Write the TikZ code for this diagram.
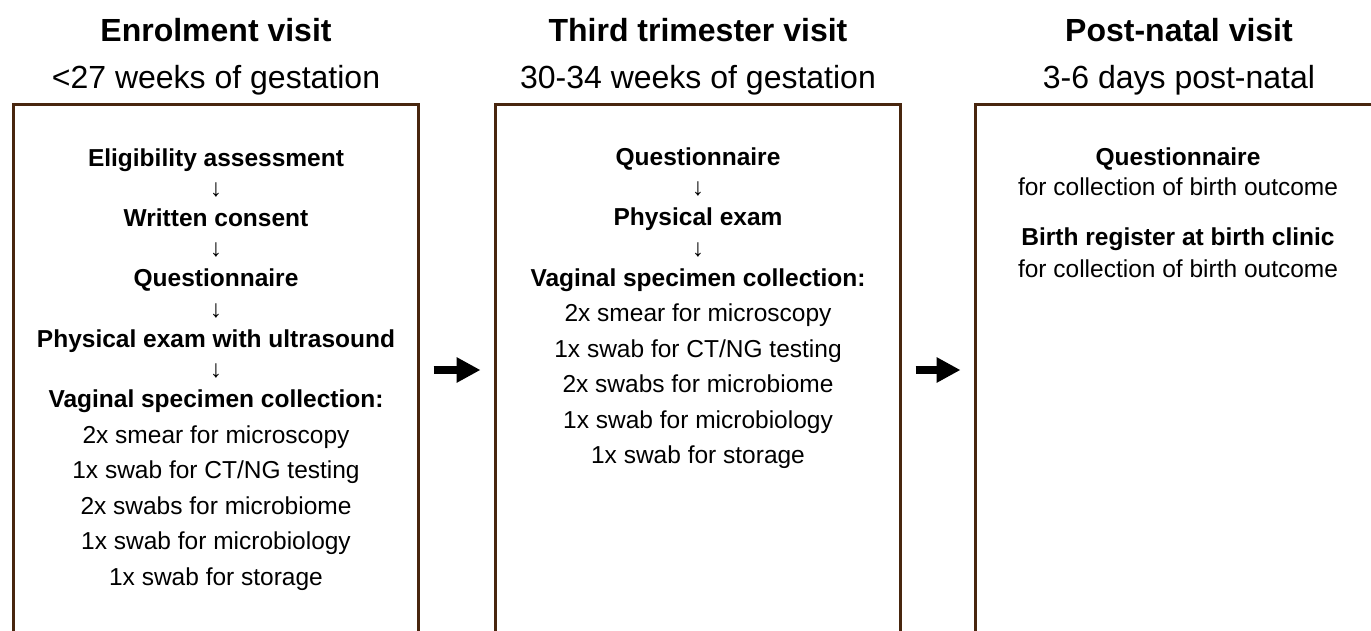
\documentclass[tikz,border=0pt]{standalone}
\usepackage{fontspec}
\setmainfont{Liberation Sans}
\usetikzlibrary{arrows.meta}
\definecolor{boxbrown}{RGB}{72,38,14}
\begin{document}
\begin{tikzpicture}[x=1pt,y=-1pt,
  title/.style={anchor=base,inner sep=0pt,font=\fontsize{32}{38}\selectfont\bfseries},
  subtitle/.style={anchor=base,inner sep=0pt,font=\fontsize{32}{38}\selectfont},
  strong/.style={anchor=base,inner sep=0pt,font=\fontsize{24.5}{29}\selectfont\bfseries},
  plain/.style={anchor=base,inner sep=0pt,font=\fontsize{24.5}{29}\selectfont},
  flow/.style={anchor=base,inner sep=0pt,font=\fontsize{24.5}{29}\selectfont},
  visitbox/.style={draw=boxbrown,line width=3pt,minimum width=405pt,minimum height=530pt,inner sep=0pt},
  bigarrow/.style={line width=8pt,-{Triangle[length=24pt,width=24pt]}}]
\useasboundingbox (0,0) rectangle (1371,631);
\clip (0,0) rectangle (1371,631);

% boxes
\node[visitbox] (b1) at (215.5,370) {};
\node[visitbox] (b2) at (697.5,370) {};
\node[visitbox] (b3) at (1177.5,370) {};

% headings
\node[title] (t1) at (216,42) {Enrolment visit};
\node[subtitle] (s1) at (216,89) {<27 weeks of gestation};
\node[title] (t2) at (698,42) {Third trimester visit};
\node[subtitle] (s2) at (698,89) {30-34 weeks of gestation};
\node[title] (t3) at (1179,42) {Post-natal visit};
\node[subtitle] (s3) at (1179,89) {3-6 days post-natal};

% box 1
\node[strong] (a1) at (216,167) {Eligibility assessment};
\node[flow] (a2) at (216,197) {↓};
\node[strong] (a3) at (216,227) {Written consent};
\node[flow] (a4) at (216,257) {↓};
\node[strong] (a5) at (216,287) {Questionnaire};
\node[flow] (a6) at (216,317) {↓};
\node[strong] (a7) at (216,347) {Physical exam with ultrasound};
\node[flow] (a8) at (216,377) {↓};
\node[strong] (a9) at (216,407) {Vaginal specimen collection:};
\node[plain] (a10) at (216,443) {2x smear for microscopy};
\node[plain] (a11) at (216,478) {1x swab for CT/NG testing};
\node[plain] (a12) at (216,514) {2x swabs for microbiome};
\node[plain] (a13) at (216,549) {1x swab for microbiology};
\node[plain] (a14) at (216,585) {1x swab for storage};

% box 2
\node[strong] (c1) at (698,166) {Questionnaire};
\node[flow] (c2) at (698,196) {↓};
\node[strong] (c3) at (698,226) {Physical exam};
\node[flow] (c4) at (698,256) {↓};
\node[strong] (c5) at (698,286) {Vaginal specimen collection:};
\node[plain] (c6) at (698,321) {2x smear for microscopy};
\node[plain] (c7) at (698,357) {1x swab for CT/NG testing};
\node[plain] (c8) at (698,392) {2x swabs for microbiome};
\node[plain] (c9) at (698,428) {1x swab for microbiology};
\node[plain] (c10) at (698,463) {1x swab for storage};

% box 3
\node[strong] (d1) at (1178,166) {Questionnaire};
\node[plain] (d2) at (1178,196) {for collection of birth outcome};
\node[strong] (d3) at (1178,246) {Birth register at birth clinic};
\node[plain] (d4) at (1178,277) {for collection of birth outcome};

% arrows between visits
\draw[bigarrow,shorten <=14pt,shorten >=13pt] (b1) -- (b2);
\draw[bigarrow,shorten <=14pt,shorten >=13pt] (b2) -- (b3);
\end{tikzpicture}
\end{document}
